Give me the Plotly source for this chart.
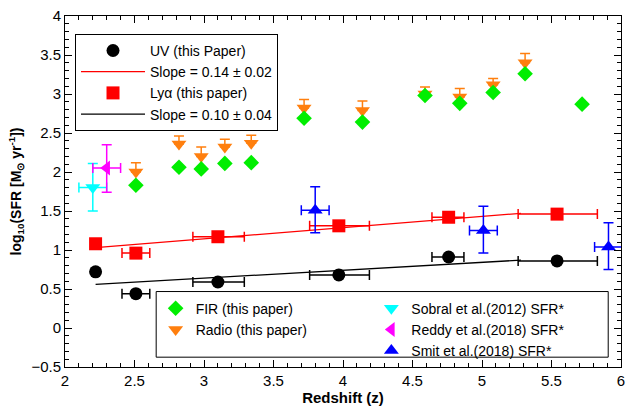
import plotly.graph_objects as go

# ---- data ----
uv_z = [2.22, 2.51, 3.10, 3.97, 4.76, 5.54]
uv_zlo = [2.22, 2.41, 2.92, 3.76, 4.64, 5.26]
uv_zhi = [2.22, 2.61, 3.29, 4.19, 4.87, 5.83]
uv_sfr = [0.72, 0.44, 0.59, 0.68, 0.91, 0.86]
lya_sfr = [1.08, 0.96, 1.17, 1.31, 1.42, 1.46]

fit_z = [2.22, 5.28]
lya_fit = [1.03, 1.47]
uv_fit = [0.56, 0.87]

fir_z = [2.51, 2.82, 2.98, 3.15, 3.34, 3.72, 4.14, 4.59, 4.84, 5.08, 5.31, 5.72]
fir_sfr = [1.83, 2.06, 2.04, 2.11, 2.12, 2.69, 2.64, 2.98, 2.88, 3.02, 3.26, 2.87]

radio_z = [2.51, 2.82, 2.98, 3.15, 3.34, 3.72, 4.14, 4.59, 4.84, 5.08, 5.31]
radio_sfr = [2.00, 2.36, 2.20, 2.32, 2.37, 2.82, 2.79, 3.00, 2.96, 3.12, 3.40]
radio_err = [0.12, 0.10, 0.12, 0.10, 0.10, 0.11, 0.12, 0.09, 0.11, 0.08, 0.12]

sobral_z = [2.20]; sobral_zerr = [0.10]
sobral_sfr = [1.80]; sobral_up = [0.31]; sobral_dn = [0.30]

reddy_z = [2.30]; reddy_zerr = [0.10]
reddy_sfr = [2.05]; reddy_up = [0.30]; reddy_dn = [0.31]

smit_z = [3.80, 5.01, 5.91]; smit_zerr = [0.10, 0.10, 0.10]
smit_sfr = [1.51, 1.25, 1.04]; smit_up = [0.30, 0.31, 0.31]; smit_dn = [0.29, 0.29, 0.29]

xticks = [2, 2.5, 3, 3.5, 4, 4.5, 5, 5.5, 6]
yticks = [-0.5, 0, 0.5, 1, 1.5, 2, 2.5, 3, 3.5, 4]

zp = [h - z for z, h in zip(uv_z, uv_zhi)]
zm = [z - l for z, l in zip(uv_z, uv_zlo)]

ORANGE = "#ff7f0e"
fig = go.Figure()

def ex(color, plus, minus=None):
    d = dict(type="data", array=plus, color=color, thickness=1.5, width=5)
    if minus is not None:
        d.update(symmetric=False, arrayminus=minus)
    return d

# fit lines
fig.add_trace(go.Scatter(x=fit_z, y=lya_fit, mode="lines", line=dict(color="red", width=1.3),
                         name="Slope = 0.14 ± 0.02", legend="legend", legendrank=2))
fig.add_trace(go.Scatter(x=fit_z, y=uv_fit, mode="lines", line=dict(color="black", width=1.3),
                         name="Slope = 0.10 ± 0.04", legend="legend", legendrank=4))
# UV
fig.add_trace(go.Scatter(x=uv_z, y=uv_sfr, mode="markers", name="UV (this Paper)",
                         marker=dict(symbol="circle", size=13, color="black"),
                         error_x=ex("black", zp, zm), legend="legend", legendrank=1))
# Lya
fig.add_trace(go.Scatter(x=uv_z, y=lya_sfr, mode="markers", name="Lyα (this paper)",
                         marker=dict(symbol="square", size=13, color="red"),
                         error_x=ex("red", zp, zm), legend="legend", legendrank=3))
# Radio
fig.add_trace(go.Scatter(x=radio_z, y=radio_sfr, mode="markers", name="Radio (this paper)",
                         marker=dict(symbol="triangle-down", size=13, color=ORANGE),
                         error_y=ex(ORANGE, radio_err, [0] * len(radio_err)),
                         legend="legend2", legendrank=2))
# FIR
fig.add_trace(go.Scatter(x=fir_z, y=fir_sfr, mode="markers", name="FIR (this paper)",
                         marker=dict(symbol="diamond", size=12, color="#00ee00"),
                         legend="legend2", legendrank=1))
# Sobral
fig.add_trace(go.Scatter(x=sobral_z, y=sobral_sfr, mode="markers", name="Sobral et al.(2012) SFR*",
                         marker=dict(symbol="triangle-down", size=13, color="cyan"),
                         error_x=ex("cyan", sobral_zerr), error_y=ex("cyan", sobral_up, sobral_dn),
                         legend="legend3", legendrank=1))
# Reddy
fig.add_trace(go.Scatter(x=reddy_z, y=reddy_sfr, mode="markers", name="Reddy et al.(2018) SFR*",
                         marker=dict(symbol="triangle-left", size=13, color="magenta"),
                         error_x=ex("magenta", reddy_zerr), error_y=ex("magenta", reddy_up, reddy_dn),
                         legend="legend3", legendrank=2))
# Smit
fig.add_trace(go.Scatter(x=smit_z, y=smit_sfr, mode="markers", name="Smit et al.(2018) SFR*",
                         marker=dict(symbol="triangle-up", size=13, color="blue"),
                         error_x=ex("blue", smit_zerr), error_y=ex("blue", smit_up, smit_dn),
                         legend="legend3", legendrank=3))

axis_common = dict(showline=True, linecolor="black", linewidth=1, mirror="ticks",
                   ticks="inside", ticklen=7, tickcolor="black", tickwidth=1,
                   showgrid=False, zeroline=False,
                   tickfont=dict(size=15, color="black"),
                   minor=dict(ticks="inside", ticklen=4, tickcolor="black", dtick=0.1, showgrid=False))

fig.update_layout(
    width=632, height=410,
    margin=dict(l=65, r=7, t=15, b=41),
    paper_bgcolor="white", plot_bgcolor="white",
    font=dict(family="Liberation Sans, Arial, sans-serif", color="black", size=14),
    xaxis=dict(range=[2, 6], tickvals=xticks, ticktext=[f"{v:g}" for v in xticks],
               title=dict(text="<b>Redshift (z)</b>", font=dict(size=15), standoff=3), **axis_common),
    yaxis=dict(range=[-0.5, 4], tickvals=yticks,
               ticktext=["\u22120.5" if v == -0.5 else f"{v:g}" for v in yticks],
               title=dict(text="<b>log<sub>10</sub>(SFR [M<sub>\u2299</sub> yr<sup>-1</sup>])</b>",
                          font=dict(size=14), standoff=6), **axis_common),
    legend=dict(x=0.018, y=0.949, xanchor="left", yanchor="top", bordercolor="black", borderwidth=1,
                bgcolor="white", itemwidth=64, tracegroupgap=0, font=dict(size=14),
                traceorder="normal"),
    legend2=dict(x=0.163, y=0.212, xanchor="left", yanchor="top", borderwidth=0,
                 bgcolor="rgba(0,0,0,0)", itemwidth=30, font=dict(size=14)),
    legend3=dict(x=0.551, y=0.212, xanchor="left", yanchor="top", borderwidth=0,
                 bgcolor="rgba(0,0,0,0)", itemwidth=30, font=dict(size=14)),
    shapes=[dict(type="rect", xref="paper", yref="paper", x0=0.164, x1=0.977, y0=0.028, y1=0.215,
                 line=dict(color="black", width=1), fillcolor="rgba(0,0,0,0)", layer="below")],
    showlegend=True,
)

fig.write_html("out.html")
